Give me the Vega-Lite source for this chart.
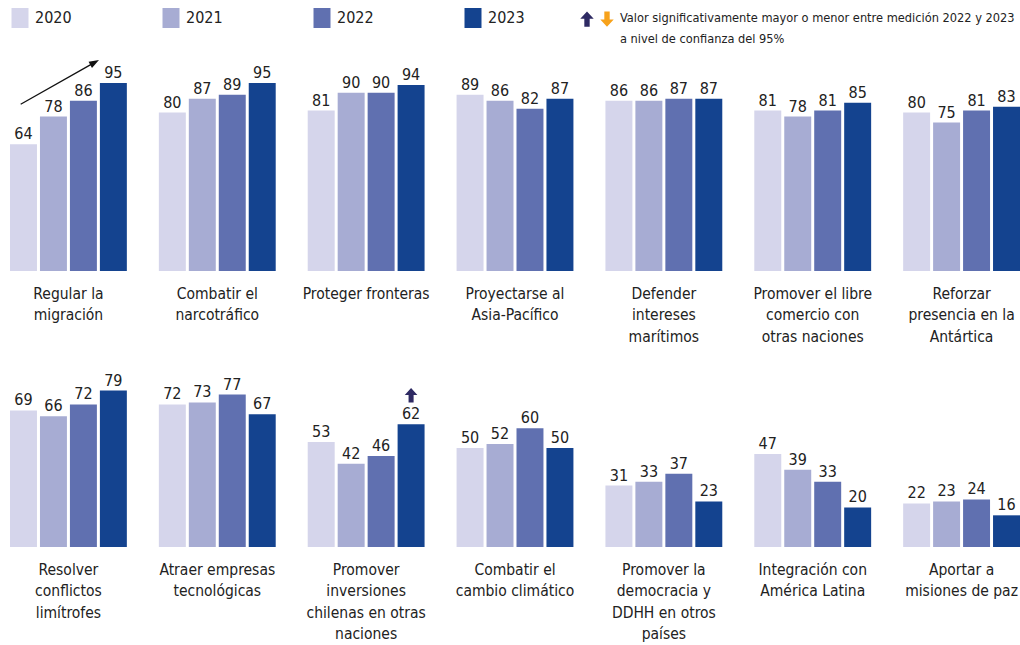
{
  "$schema": "https://vega.github.io/schema/vega-lite/v6.json",
  "padding": {"left": 10, "top": 8, "right": 0, "bottom": 0},
  "background": "white",
  "config": {
    "view": {"stroke": null},
    "font": "DejaVu Sans Condensed, Liberation Sans Narrow, sans-serif",
    "axis": {"domain": false, "ticks": false, "grid": false}
  },
  "datasets": {
    "bars": [
      {"row": 1, "cat": "Regular la|migración", "year": "2020", "value": 64},
      {"row": 1, "cat": "Regular la|migración", "year": "2021", "value": 78},
      {"row": 1, "cat": "Regular la|migración", "year": "2022", "value": 86},
      {"row": 1, "cat": "Regular la|migración", "year": "2023", "value": 95},
      {"row": 1, "cat": "Combatir el|narcotráfico", "year": "2020", "value": 80},
      {"row": 1, "cat": "Combatir el|narcotráfico", "year": "2021", "value": 87},
      {"row": 1, "cat": "Combatir el|narcotráfico", "year": "2022", "value": 89},
      {"row": 1, "cat": "Combatir el|narcotráfico", "year": "2023", "value": 95},
      {"row": 1, "cat": "Proteger fronteras", "year": "2020", "value": 81},
      {"row": 1, "cat": "Proteger fronteras", "year": "2021", "value": 90},
      {"row": 1, "cat": "Proteger fronteras", "year": "2022", "value": 90},
      {"row": 1, "cat": "Proteger fronteras", "year": "2023", "value": 94},
      {"row": 1, "cat": "Proyectarse al|Asia-Pacífico", "year": "2020", "value": 89},
      {"row": 1, "cat": "Proyectarse al|Asia-Pacífico", "year": "2021", "value": 86},
      {"row": 1, "cat": "Proyectarse al|Asia-Pacífico", "year": "2022", "value": 82},
      {"row": 1, "cat": "Proyectarse al|Asia-Pacífico", "year": "2023", "value": 87},
      {"row": 1, "cat": "Defender|intereses|marítimos", "year": "2020", "value": 86},
      {"row": 1, "cat": "Defender|intereses|marítimos", "year": "2021", "value": 86},
      {"row": 1, "cat": "Defender|intereses|marítimos", "year": "2022", "value": 87},
      {"row": 1, "cat": "Defender|intereses|marítimos", "year": "2023", "value": 87},
      {"row": 1, "cat": "Promover el libre|comercio con|otras naciones", "year": "2020", "value": 81},
      {"row": 1, "cat": "Promover el libre|comercio con|otras naciones", "year": "2021", "value": 78},
      {"row": 1, "cat": "Promover el libre|comercio con|otras naciones", "year": "2022", "value": 81},
      {"row": 1, "cat": "Promover el libre|comercio con|otras naciones", "year": "2023", "value": 85},
      {"row": 1, "cat": "Reforzar|presencia en la|Antártica", "year": "2020", "value": 80},
      {"row": 1, "cat": "Reforzar|presencia en la|Antártica", "year": "2021", "value": 75},
      {"row": 1, "cat": "Reforzar|presencia en la|Antártica", "year": "2022", "value": 81},
      {"row": 1, "cat": "Reforzar|presencia en la|Antártica", "year": "2023", "value": 83},
      {"row": 2, "cat": "Resolver|conflictos|limítrofes", "year": "2020", "value": 69},
      {"row": 2, "cat": "Resolver|conflictos|limítrofes", "year": "2021", "value": 66},
      {"row": 2, "cat": "Resolver|conflictos|limítrofes", "year": "2022", "value": 72},
      {"row": 2, "cat": "Resolver|conflictos|limítrofes", "year": "2023", "value": 79},
      {"row": 2, "cat": "Atraer empresas|tecnológicas", "year": "2020", "value": 72},
      {"row": 2, "cat": "Atraer empresas|tecnológicas", "year": "2021", "value": 73},
      {"row": 2, "cat": "Atraer empresas|tecnológicas", "year": "2022", "value": 77},
      {"row": 2, "cat": "Atraer empresas|tecnológicas", "year": "2023", "value": 67},
      {"row": 2, "cat": "Promover|inversiones|chilenas en otras|naciones", "year": "2020", "value": 53},
      {"row": 2, "cat": "Promover|inversiones|chilenas en otras|naciones", "year": "2021", "value": 42},
      {"row": 2, "cat": "Promover|inversiones|chilenas en otras|naciones", "year": "2022", "value": 46},
      {"row": 2, "cat": "Promover|inversiones|chilenas en otras|naciones", "year": "2023", "value": 62, "sig": "mayor"},
      {"row": 2, "cat": "Combatir el|cambio climático", "year": "2020", "value": 50},
      {"row": 2, "cat": "Combatir el|cambio climático", "year": "2021", "value": 52},
      {"row": 2, "cat": "Combatir el|cambio climático", "year": "2022", "value": 60},
      {"row": 2, "cat": "Combatir el|cambio climático", "year": "2023", "value": 50},
      {"row": 2, "cat": "Promover la|democracia y|DDHH en otros|países", "year": "2020", "value": 31},
      {"row": 2, "cat": "Promover la|democracia y|DDHH en otros|países", "year": "2021", "value": 33},
      {"row": 2, "cat": "Promover la|democracia y|DDHH en otros|países", "year": "2022", "value": 37},
      {"row": 2, "cat": "Promover la|democracia y|DDHH en otros|países", "year": "2023", "value": 23},
      {"row": 2, "cat": "Integración con|América Latina", "year": "2020", "value": 47},
      {"row": 2, "cat": "Integración con|América Latina", "year": "2021", "value": 39},
      {"row": 2, "cat": "Integración con|América Latina", "year": "2022", "value": 33},
      {"row": 2, "cat": "Integración con|América Latina", "year": "2023", "value": 20},
      {"row": 2, "cat": "Aportar a|misiones de paz", "year": "2020", "value": 22},
      {"row": 2, "cat": "Aportar a|misiones de paz", "year": "2021", "value": 23},
      {"row": 2, "cat": "Aportar a|misiones de paz", "year": "2022", "value": 24},
      {"row": 2, "cat": "Aportar a|misiones de paz", "year": "2023", "value": 16}
    ]
  },
  "spacing": 4,
  "vconcat": [
    {
      "width": 1010,
      "height": 198,
      "data": {"name": "bars"},
      "transform": [{"filter": "datum.row == 1"}],
      "encoding": {
        "x": {"field": "cat", "type": "nominal", "sort": null, "title": null,
          "scale": {"paddingInner": 0.215, "paddingOuter": 0},
          "axis": {"labelExpr": "split(datum.value, '|')", "labelAngle": 0, "labelFontSize": 15.5, "labelLineHeight": 21.5, "labelPadding": 15, "labelColor": "#222", "labelLimit": 0, "labelOverlap": false}},
        "xOffset": {"field": "year", "type": "nominal", "scale": {"paddingInner": 0.1, "paddingOuter": 0}},
        "y": {"field": "value", "type": "quantitative", "scale": {"domain": [0, 100]}, "axis": null}
      },
      "layer": [
        {
          "mark": {"type": "bar"},
          "encoding": {
            "color": {"field": "year", "type": "nominal",
              "scale": {"domain": ["2020", "2021", "2022", "2023"], "range": ["#d5d5eb", "#a7acd3", "#6070b0", "#14438f"]},
              "legend": {"orient": "none", "legendX": 0, "legendY": -65, "direction": "horizontal", "title": null,
                "symbolType": "M-0.85,-1H0.85V1H-0.85Z", "symbolSize": 400, "symbolStrokeWidth": 0,
                "labelFontSize": 16, "labelColor": "#222", "labelOffset": 5, "columnPadding": 89}}
          }
        },
        {
          "mark": {"type": "text", "baseline": "alphabetic", "dy": -5, "fontSize": 16, "color": "#222"},
          "encoding": {"text": {"field": "value", "type": "quantitative"}}
        },
        {
          "transform": [{"filter": "datum.year == '2020' && datum.value == 64"}],
          "mark": {"type": "point", "shape": "M-3.12,-40.57L66.48,-79.95L65.08,-82.43L75.5,-84.3L68.52,-76.33L67.12,-78.81L-2.48,-39.43Z", "size": 4, "filled": true, "color": "#111", "opacity": 1, "strokeWidth": 0}
        }
      ]
    },
    {
      "width": 1010,
      "height": 198,
      "data": {"name": "bars"},
      "transform": [{"filter": "datum.row == 2"}],
      "encoding": {
        "x": {"field": "cat", "type": "nominal", "sort": null, "title": null,
          "scale": {"paddingInner": 0.215, "paddingOuter": 0},
          "axis": {"labelExpr": "split(datum.value, '|')", "labelAngle": 0, "labelFontSize": 15.5, "labelLineHeight": 21.5, "labelPadding": 15, "labelColor": "#222", "labelLimit": 0, "labelOverlap": false}},
        "xOffset": {"field": "year", "type": "nominal", "scale": {"paddingInner": 0.1, "paddingOuter": 0}},
        "y": {"field": "value", "type": "quantitative", "scale": {"domain": [0, 100]}, "axis": null}
      },
      "layer": [
        {
          "mark": {"type": "bar"},
          "encoding": {
            "color": {"field": "year", "type": "nominal"}
          }
        },
        {
          "mark": {"type": "text", "baseline": "alphabetic", "dy": -5, "fontSize": 16, "color": "#222"},
          "encoding": {"text": {"field": "value", "type": "quantitative"}}
        },
        {
          "transform": [{"filter": "datum.sig == 'mayor'"}],
          "mark": {"type": "point", "size": 159, "filled": true, "opacity": 1, "strokeWidth": 0, "yOffset": -29},
          "encoding": {
            "fill": {"field": "sig", "type": "nominal",
              "scale": {"domain": ["mayor", "menor"], "range": ["#2e2a63", "#f7a21b"]},
              "legend": {"orient": "none", "legendX": 570, "legendY": -61, "direction": "horizontal",
                "title": ["Valor significativamente mayor o menor entre medición 2022 y 2023", "a nivel de confianza del 95%"],
                "titleOrient": "right", "titleAnchor": "start", "titleBaseline": "top", "titleAlign": "left",
                "titleFontSize": 12.7, "titleFontWeight": "normal", "titleColor": "#222", "titleLineHeight": 21, "titlePadding": 6, "titleLimit": 600,
                "labelExpr": "''", "labelFontSize": 0.01, "labelOffset": 0, "columnPadding": 6, "symbolSize": 180, "symbolStrokeWidth": 0}},
            "shape": {"field": "sig", "type": "nominal",
              "scale": {"domain": ["mayor", "menor"], "range": ["M0,-1.15L1,-0.05L0.4,-0.05L0.4,1.15L-0.4,1.15L-0.4,-0.05L-1,-0.05Z", "M0,1.15L1,0.05L0.4,0.05L0.4,-1.15L-0.4,-1.15L-0.4,0.05L-1,0.05Z"]},
              "legend": {"orient": "none", "legendX": 570, "legendY": -61, "direction": "horizontal",
                "title": ["Valor significativamente mayor o menor entre medición 2022 y 2023", "a nivel de confianza del 95%"],
                "titleOrient": "right", "titleAnchor": "start", "titleBaseline": "top", "titleAlign": "left",
                "titleFontSize": 12.7, "titleFontWeight": "normal", "titleColor": "#222", "titleLineHeight": 21, "titlePadding": 6, "titleLimit": 600,
                "labelExpr": "''", "labelFontSize": 0.01, "labelOffset": 0, "columnPadding": 6, "symbolSize": 180, "symbolStrokeWidth": 0}}
          }
        }
      ]
    }
  ]
}
